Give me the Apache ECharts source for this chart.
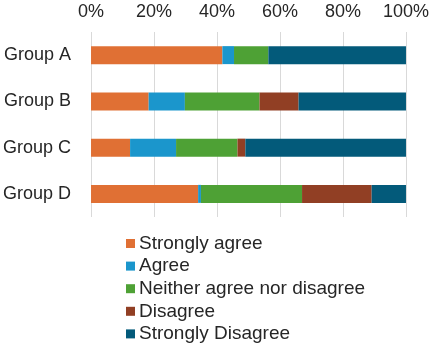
<!DOCTYPE html>
<html>
<head>
<meta charset="utf-8">
<script src="https://cdn.jsdelivr.net/npm/echarts@6/dist/echarts.min.js"></script>
<style>
  html, body { margin: 0; padding: 0; background: #ffffff; }
  #chart { width: 432px; height: 343px; }
</style>
</head>
<body>
<div id="chart"></div>
<script>
// Survey groups, top to bottom
const groups = ['Group A', 'Group B', 'Group C', 'Group D'];

// Share of responses (%) per answer, one value per group
const stronglyAgree    = [41.7, 18.3, 12.4, 34.0];
const agree            = [3.7, 11.5, 14.6, 0.9];
const neither          = [10.9, 23.7, 19.5, 32.1];
const disagree         = [0.0, 12.4, 2.5, 22.1];
const stronglyDisagree = [43.7, 34.1, 51.0, 10.9];

// Percentage axis ticks
const tickValues = [0, 20, 40, 60, 80, 100];

const answerNames = ['Strongly agree', 'Agree', 'Neither agree nor disagree', 'Disagree', 'Strongly Disagree'];
const answerData = [stronglyAgree, agree, neither, disagree, stronglyDisagree];
const answerColors = ['#E07034', '#1B96CC', '#4EA135', '#913F24', '#035A7A'];

const FONT = 'Liberation Sans, Arial, sans-serif';
const TEXT = '#262626';

const chart = echarts.init(document.getElementById('chart'), null, { renderer: 'canvas' });

chart.setOption({
  animation: false,
  backgroundColor: '#ffffff',
  grid: { left: 90, right: 23, top: 32, height: 185, containLabel: false },
  xAxis: {
    type: 'value',
    position: 'top',
    min: tickValues[0],
    max: tickValues[tickValues.length - 1],
    interval: tickValues[1] - tickValues[0],
    axisLine: { show: false },
    axisTick: { show: false },
    axisLabel: {
      formatter: '{value}%',
      fontFamily: FONT,
      fontSize: 18,
      color: TEXT,
      margin: 11
    },
    splitLine: { show: true, lineStyle: { color: '#d9d9d9', width: 1 } }
  },
  yAxis: {
    type: 'category',
    data: groups,
    inverse: true,
    axisLine: { show: false },
    axisTick: { show: false },
    axisLabel: {
      fontFamily: FONT,
      fontSize: 18,
      color: TEXT,
      margin: 20
    }
  },
  legend: {
    orient: 'vertical',
    left: 126,
    top: 234,
    height: 115,
    padding: 0,
    itemWidth: 9,
    itemHeight: 9,
    itemGap: 3.6,
    icon: 'rect',
    textStyle: { fontFamily: FONT, fontSize: 19, lineHeight: 19, color: TEXT, padding: [0, 0, 0, -1] },
    data: answerNames
  },
  series: answerNames.map((name, i) => ({
    name: name,
    type: 'bar',
    stack: 'total',
    barWidth: 18,
    data: answerData[i],
    itemStyle: { color: answerColors[i] }
  }))
});
</script>
</body>
</html>
